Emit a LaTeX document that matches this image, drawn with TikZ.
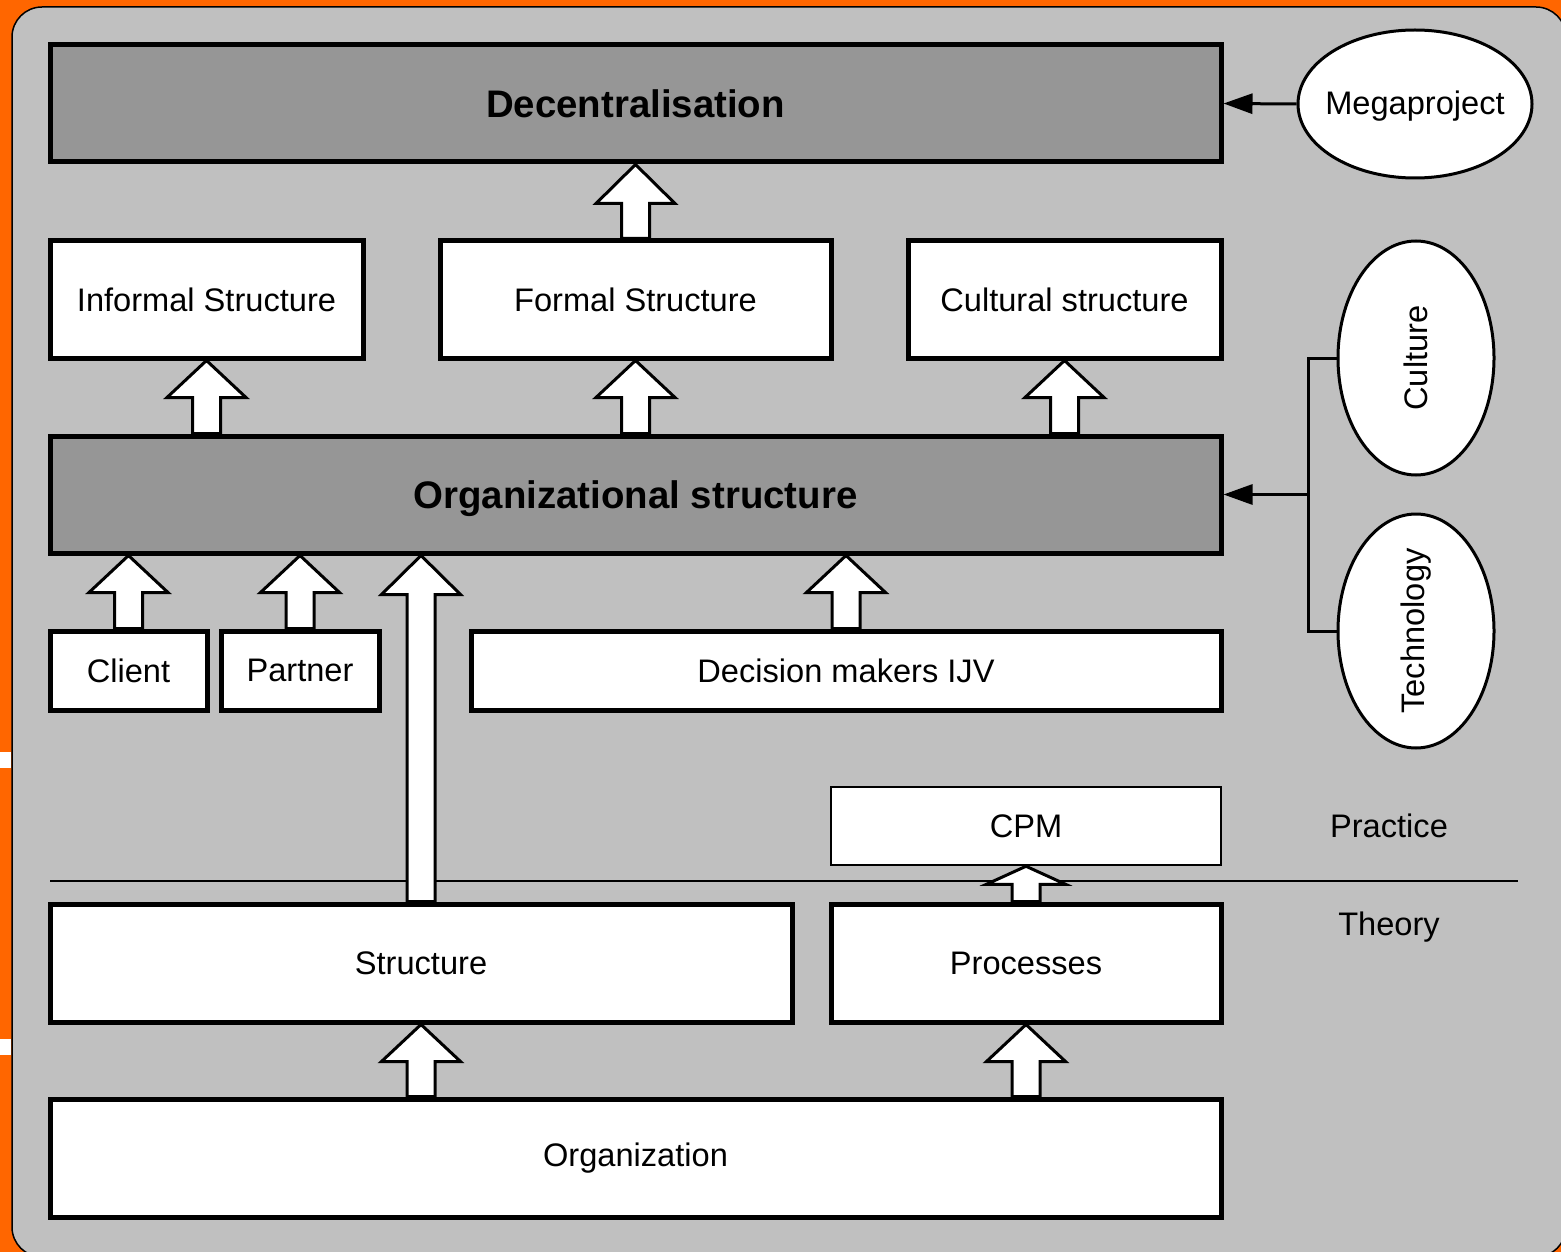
\documentclass[tikz,border=0pt]{standalone}
\usepackage{fontspec}
\setmainfont{Liberation Sans}
\usetikzlibrary{calc,shapes.geometric,arrows.meta}
\pgfdeclarelayer{bg}
\pgfdeclarelayer{arr}
\pgfsetlayers{bg,arr,main}
\definecolor{orangebg}{RGB}{255,102,0}
\definecolor{panel}{RGB}{192,192,192}
\definecolor{darkbox}{RGB}{150,150,150}
\tikzset{
  base/.style={font=\fontsize{32.6}{39}\selectfont},
  box/.style={base,draw=black,line width=5pt,fill=white,rectangle,inner sep=0pt},
  thinbox/.style={box,line width=2.5pt},
  bigbox/.style={box,fill=darkbox,font=\fontsize{38.4}{46}\selectfont\bfseries},
  ell/.style={draw=black,line width=3pt,fill=white,ellipse,inner sep=0pt},
  lbl/.style={base,inner sep=0pt},
  conn/.style={draw=black,line width=3pt},
  harrow/.style={draw=black,line width=3pt,fill=white,line join=miter},
}
\newcommand\hollowarr[3]{%
  \draw[harrow] let \p1=(#1), \p2=(#2) in
   (\x1-14pt,\y1) -- (\x1-14pt,\y2-#3) -- (\x1-39.5pt,\y2-#3) -- (\x1,\y2)
   -- (\x1+39.5pt,\y2-#3) -- (\x1+14pt,\y2-#3) -- (\x1+14pt,\y1) -- cycle;}
\begin{document}
\begin{tikzpicture}[x=1pt,y=-1pt]
\useasboundingbox (0,0) rectangle (1561,1252);
\begin{pgfonlayer}{bg}
  \fill[orangebg] (0,0) rectangle (1561,1252);
  \fill[white] (0,752) rectangle (11,768);
  \fill[white] (0,1039) rectangle (11,1055);
  \draw[fill=panel,draw=black,line width=1.5pt,rounded corners=30pt] (12,7) rectangle (1566,1257);
  \coordinate (sepL) at (50,881);
  \coordinate (sepR) at (1518,881);
  \draw[black,line width=1.3pt] (sepL) -- (sepR);
\end{pgfonlayer}

% boxes
\node[bigbox,minimum width=1171pt,minimum height=117pt] (dec) at (635.5,103.5) {Decentralisation};
\node[box,minimum width=313pt,minimum height=117pt] (inf) at (206.5,299.5) {Informal Structure};
\node[box,minimum width=391pt,minimum height=117pt] (form) at (635.5,299.5) {Formal Structure};
\node[box,minimum width=313pt,minimum height=117pt] (cult) at (1064.5,299.5) {Cultural structure};
\node[bigbox,minimum width=1171pt,minimum height=117pt,text depth=0pt] (org) at (635.5,494.5) {Organizational structure};
\node[box,minimum width=157pt,minimum height=79pt] (client) at (128.5,670.5) {Client};
\node[box,minimum width=158pt,minimum height=79pt] (partner) at (300,670.5) {Partner};
\node[box,minimum width=750pt,minimum height=79pt] (dm) at (846,670.5) {Decision makers IJV};
\node[thinbox,minimum width=390pt,minimum height=78pt] (cpm) at (1026,826) {CPM};
\node[box,minimum width=742pt,minimum height=118pt] (struct) at (421,963) {Structure};
\node[box,minimum width=390pt,minimum height=118pt] (proc) at (1026,963) {Processes};
\node[box,minimum width=1171pt,minimum height=118pt] (orgz) at (635.5,1158) {Organization};

% ellipses
\node[ell,minimum width=234pt,minimum height=148pt] (mega) at (1415,104) {};
\node[lbl,yshift=-2.5pt] (megat) at (mega.center) {Megaproject};
\node[ell,minimum width=156pt,minimum height=234pt] (culture) at (1416,358) {};
\node[lbl,rotate=90] (culturet) at (culture.center) {Culture};
\node[ell,minimum width=156pt,minimum height=234pt] (tech) at (1416,631) {};
\node[lbl,rotate=90] (techt) at (tech.center) {Technology};

% side labels
\node[lbl] (practice) at (1389,826) {Practice};
\node[lbl] (theory) at (1389,927) {Theory};

% hollow arrows
\begin{pgfonlayer}{arr}
  \hollowarr{form.north}{dec.south}{39pt}
  \hollowarr{org.north -| inf.south}{inf.south}{37pt}
  \hollowarr{org.north -| form.south}{form.south}{37pt}
  \hollowarr{org.north -| cult.south}{cult.south}{37pt}
  \hollowarr{client.north}{org.south -| client.north}{37pt}
  \hollowarr{partner.north}{org.south -| partner.north}{37pt}
  \hollowarr{dm.north}{org.south -| dm.north}{37pt}
  \hollowarr{struct.north}{org.south -| struct.north}{39pt}
  \hollowarr{proc.north}{cpm.south}{18pt}
  \hollowarr{orgz.north -| struct.south}{struct.south}{37pt}
  \hollowarr{orgz.north -| proc.south}{proc.south}{37pt}
\end{pgfonlayer}

% connectors
\draw[conn,-{Triangle[length=29pt,width=20pt]}] (mega.west) -- (dec.east);
\coordinate (jn) at (1308,494.5);
\draw[conn] (culture.west) -| (jn) |- (tech.west);
\draw[conn,-{Triangle[length=29pt,width=20pt]}] (jn) -- (org.east);
\end{tikzpicture}
\end{document}
